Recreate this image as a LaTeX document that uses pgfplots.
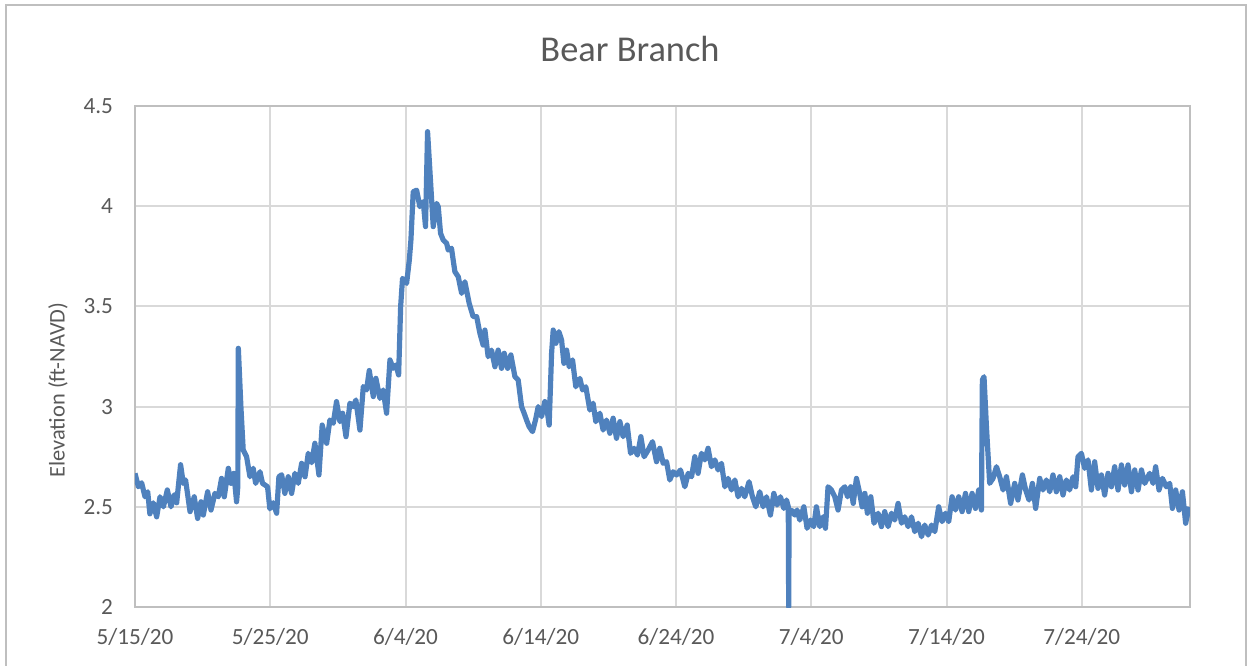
\documentclass[border=0pt]{standalone}
\usepackage{pgfplots}
\pgfplotsset{compat=1.18}
\usepackage{pgfplotstable}
\usepackage{fontspec}
\setmainfont{Carlito}
\definecolor{lineblue}{RGB}{79,129,189}
\definecolor{txt}{RGB}{89,89,89}
\definecolor{gridc}{RGB}{217,217,217}
\definecolor{axisc}{RGB}{191,191,191}
\pgfplotstableread{
d v
0 2.667
0.25 2.60
0.49 2.62
0.74 2.55
0.94 2.575
1.10 2.465
1.35 2.52
1.60 2.45
1.85 2.55
2.10 2.50
2.39 2.584
2.66 2.50
2.90 2.56
3.08 2.52
3.37 2.71
3.57 2.617
3.74 2.634
4.07 2.476
4.38 2.55
4.63 2.442
4.88 2.525
5.05 2.459
5.37 2.575
5.62 2.484
5.91 2.567
6.16 2.55
6.40 2.642
6.60 2.55
6.90 2.692
7.10 2.617
7.31 2.667
7.51 2.525
7.60 2.60
7.64 3.291
7.83 2.999
8.00 2.784
8.25 2.75
8.50 2.65
8.74 2.692
8.92 2.617
9.24 2.675
9.43 2.617
9.80 2.60
9.97 2.49
10.22 2.52
10.47 2.468
10.64 2.65
10.84 2.66
11.08 2.567
11.33 2.65
11.58 2.567
11.82 2.667
12.07 2.617
12.32 2.717
12.57 2.65
12.81 2.767
13.06 2.72
13.30 2.817
13.60 2.659
13.84 2.908
14.17 2.817
14.41 2.933
14.66 2.917
14.90 3.025
15.15 2.925
15.35 2.967
15.60 2.85
15.89 3.017
16.14 3.0
16.33 3.033
16.63 2.883
16.88 3.10
17.12 3.083
17.32 3.18
17.62 3.05
17.81 3.141
18.11 3.041
18.35 3.083
18.60 2.967
18.85 3.233
19.09 3.191
19.29 3.208
19.49 3.158
19.64 3.499
19.78 3.64
20.08 3.615
20.28 3.73
20.40 3.831
20.57 4.072
20.82 4.08
21.06 3.998
21.31 4.023
21.48 3.898
21.63 4.372
21.80 4.181
22.05 3.898
22.30 4.014
22.42 3.998
22.59 3.865
22.79 3.831
23.04 3.815
23.16 3.781
23.40 3.79
23.65 3.673
23.90 3.648
24.15 3.565
24.39 3.623
24.71 3.515
25.00 3.449
25.26 3.449
25.50 3.366
25.74 3.307
25.87 3.382
26.11 3.249
26.36 3.282
26.61 3.199
26.85 3.282
27.10 3.191
27.30 3.266
27.55 3.191
27.79 3.258
28.09 3.149
28.33 3.133
28.58 3.0
28.77 2.967
28.95 2.933
29.14 2.9
29.39 2.875
29.61 2.933
29.81 3.0
30.06 2.95
30.30 3.025
30.50 2.967
30.62 2.908
30.80 3.266
30.92 3.382
31.12 3.316
31.34 3.374
31.54 3.332
31.71 3.216
31.91 3.282
32.10 3.199
32.35 3.233
32.59 3.099
32.89 3.141
33.09 3.083
33.33 3.099
33.63 2.983
33.87 3.017
34.07 2.925
34.37 2.967
34.61 2.883
34.86 2.933
35.11 2.867
35.35 2.942
35.60 2.842
35.85 2.925
36.09 2.85
36.39 2.908
36.64 2.767
36.90 2.792
37.15 2.758
37.40 2.85
37.64 2.75
37.94 2.783
38.26 2.825
38.56 2.725
38.80 2.792
39.05 2.717
39.30 2.725
39.54 2.634
39.79 2.675
40.04 2.659
40.33 2.684
40.65 2.60
40.90 2.667
41.15 2.65
41.39 2.75
41.63 2.667
41.88 2.767
42.13 2.734
42.37 2.792
42.62 2.70
42.87 2.734
43.11 2.684
43.36 2.717
43.61 2.60
43.85 2.642
44.10 2.584
44.35 2.634
44.59 2.55
44.84 2.592
45.08 2.55
45.40 2.625
45.65 2.55
45.90 2.50
46.19 2.575
46.44 2.50
46.69 2.55
46.98 2.459
47.23 2.567
47.47 2.509
47.72 2.55
47.97 2.492
48.17 2.534
48.30 2.50
48.33 2.0
48.36 2.48
48.53 2.484
48.78 2.459
48.95 2.484
49.15 2.434
49.45 2.50
49.69 2.393
49.94 2.434
50.18 2.401
50.38 2.50
50.63 2.401
50.87 2.45
51.05 2.393
51.24 2.60
51.49 2.584
51.74 2.55
51.98 2.484
52.23 2.584
52.48 2.60
52.68 2.55
52.92 2.60
53.10 2.517
53.34 2.642
53.58 2.567
53.76 2.50
53.96 2.567
54.15 2.468
54.40 2.55
54.64 2.418
54.94 2.468
55.19 2.401
55.43 2.476
55.68 2.401
55.93 2.468
56.17 2.434
56.42 2.517
56.67 2.418
56.91 2.45
57.16 2.401
57.41 2.45
57.65 2.376
57.90 2.418
58.15 2.351
58.39 2.409
58.64 2.359
58.89 2.409
59.13 2.376
59.42 2.50
59.67 2.426
59.92 2.468
60.16 2.426
60.41 2.55
60.66 2.484
60.90 2.55
61.15 2.476
61.40 2.567
61.64 2.476
61.89 2.567
62.14 2.492
62.38 2.584
62.58 2.484
62.65 3.133
62.77 3.149
62.95 2.90
63.19 2.617
63.44 2.642
63.69 2.70
63.93 2.65
64.18 2.584
64.43 2.65
64.74 2.517
65.04 2.617
65.28 2.534
65.61 2.659
65.85 2.584
66.10 2.534
66.35 2.617
66.59 2.492
66.89 2.642
67.13 2.584
67.38 2.634
67.63 2.575
67.87 2.659
68.12 2.575
68.37 2.65
68.61 2.559
68.86 2.634
69.10 2.584
69.35 2.65
69.55 2.60
69.72 2.75
69.97 2.767
70.21 2.692
70.46 2.734
70.71 2.584
70.95 2.725
71.20 2.592
71.45 2.659
71.69 2.559
71.94 2.667
72.19 2.60
72.43 2.70
72.68 2.584
72.93 2.709
73.17 2.609
73.42 2.709
73.67 2.575
73.91 2.684
74.16 2.584
74.41 2.684
74.65 2.617
75.02 2.667
75.27 2.617
75.46 2.70
75.71 2.584
75.96 2.642
76.25 2.60
76.50 2.617
76.70 2.492
76.94 2.584
77.19 2.484
77.44 2.575
77.68 2.418
77.93 2.50
}\elev
\begin{document}
\begin{tikzpicture}
\useasboundingbox (-67.5pt,-29pt) rectangle (558pt,303.5pt);
\draw[axisc, line width=0.8pt] (-64.5pt,-40pt) rectangle (555.5pt,301pt);
\begin{axis}[
  at={(0,0)}, anchor=south west,
  scale only axis, width=527.5pt, height=250.5pt,
  xmin=0, xmax=78, ymin=2, ymax=4.5,
  xtick={0,10,20,30,40,50,60,70},
  xticklabels={5/15/20,5/25/20,6/4/20,6/14/20,6/24/20,7/4/20,7/14/20,7/24/20},
  ytick={2,2.5,3,3.5,4,4.5},
  yticklabels={2,2.5,3,3.5,4,4.5},
  major tick length=0pt,
  xmajorgrids, ymajorgrids,
  grid style={gridc, line width=1pt},
  axis line style={axisc, line width=1pt},
  tick label style={txt, font=\fontsize{11.6}{13}\selectfont},
  xticklabel style={yshift=-7pt},
  yticklabel style={xshift=-7.5pt},
  clip=true,
]
\addplot[lineblue, line width=2.6pt, line join=round] table[x=d, y=v] {\elev};
\end{axis}
\node[txt, anchor=base, font=\fontsize{18.2}{22}\selectfont] at (247.5pt,272.5pt) {Bear Branch};
\node[txt, rotate=90, font=\fontsize{11.2}{13}\selectfont] at (-38.5pt,108.5pt) {Elevation (ft-NAVD)};
\end{tikzpicture}
\end{document}
